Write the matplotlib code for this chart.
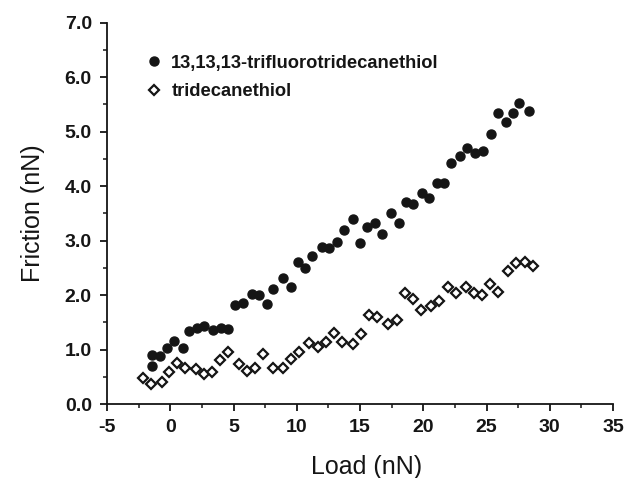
import matplotlib
matplotlib.use("Agg")
import matplotlib.pyplot as plt
from matplotlib.ticker import MultipleLocator, FormatStrFormatter

plt.rcParams["font.family"] = ["Liberation Sans", "DejaVu Sans"]
plt.rcParams["axes.unicode_minus"] = False

# 13,13,13-trifluorotridecanethiol
load_cf3 = [-1.47, -1.47, -0.81, -0.28, 0.30, 0.98, 1.51, 2.09, 2.67, 3.40,
            3.99, 4.59, 5.12, 5.73, 6.44, 7.04, 7.62, 8.15, 8.92, 9.54,
            10.08, 10.65, 11.23, 11.97, 12.57, 13.21, 13.76, 14.42, 15.00, 15.58,
            16.19, 16.77, 17.45, 18.08, 18.64, 19.17, 19.93, 20.48, 21.06, 21.64,
            22.19, 22.91, 23.48, 24.09, 24.70, 25.33, 25.93, 26.52, 27.07, 27.60,
            28.38]
fric_cf3 = [0.70, 0.90, 0.89, 1.03, 1.16, 1.02, 1.34, 1.39, 1.43, 1.35,
            1.40, 1.38, 1.82, 1.85, 2.02, 2.00, 1.83, 2.12, 2.32, 2.15,
            2.60, 2.49, 2.72, 2.89, 2.87, 2.97, 3.19, 3.39, 2.96, 3.25,
            3.32, 3.12, 3.51, 3.33, 3.71, 3.67, 3.87, 3.79, 4.05, 4.05,
            4.42, 4.55, 4.70, 4.60, 4.65, 4.95, 5.35, 5.17, 5.35, 5.52,
            5.38]

# tridecanethiol
load_ch3 = [-2.13, -1.52, -0.68, -0.08, 0.51, 1.17, 2.04, 2.69, 3.32, 3.93,
            4.59, 5.43, 6.04, 6.70, 7.36, 8.15, 8.89, 9.55, 10.15, 10.99,
            11.70, 12.31, 12.94, 13.60, 14.42, 15.08, 15.72, 16.37, 17.24, 17.90,
            18.53, 19.17, 19.82, 20.61, 21.27, 21.93, 22.57, 23.38, 24.01, 24.67,
            25.28, 25.89, 26.68, 27.33, 28.04, 28.65]
fric_ch3 = [0.48, 0.36, 0.41, 0.58, 0.76, 0.67, 0.64, 0.56, 0.59, 0.81,
            0.95, 0.73, 0.61, 0.67, 0.92, 0.67, 0.67, 0.82, 0.96, 1.12,
            1.05, 1.14, 1.31, 1.14, 1.10, 1.28, 1.64, 1.59, 1.47, 1.55,
            2.03, 1.93, 1.72, 1.80, 1.90, 2.14, 2.03, 2.15, 2.04, 2.00,
            2.20, 2.06, 2.45, 2.58, 2.61, 2.53]

ink = "#151515"

fig = plt.figure(figsize=(6.27, 4.78), dpi=100)
ax = fig.add_axes([0.1707, 0.1548, 0.807, 0.7977])

ax.plot(load_cf3, fric_cf3, "o", color=ink, markersize=6.5,
        label="13,13,13-trifluorotridecanethiol")
ax.plot(load_ch3, fric_ch3, "D", markerfacecolor="white", markeredgecolor=ink,
        markeredgewidth=1.6, markersize=4.8, label="tridecanethiol")

ax.set_xlim(-5, 35)
ax.set_ylim(0, 7)
ax.xaxis.set_major_locator(MultipleLocator(5))
ax.xaxis.set_minor_locator(MultipleLocator(2.5))
ax.yaxis.set_major_locator(MultipleLocator(1))
ax.yaxis.set_minor_locator(MultipleLocator(0.5))
ax.yaxis.set_major_formatter(FormatStrFormatter("%.1f"))

for s in ["top", "right"]:
    ax.spines[s].set_visible(False)
for s in ["left", "bottom"]:
    ax.spines[s].set_linewidth(1.3)
    ax.spines[s].set_color(ink)

ax.tick_params(which="major", direction="out", length=5, width=1.3,
               labelsize=14, colors=ink, pad=6)
ax.tick_params(which="minor", direction="out", length=3, width=1.1, colors=ink)
for t in ax.get_xticklabels() + ax.get_yticklabels():
    t.set_fontweight("bold")

ax.set_xlabel("Load (nN)", fontsize=18, color=ink, labelpad=13)
ax.xaxis.set_label_coords(0.513, -0.135)
ax.set_ylabel("Friction (nN)", fontsize=18, color=ink, labelpad=14)

leg = ax.legend(loc="upper left", bbox_to_anchor=(0.06, 0.935), frameon=False,
                prop={"size": 13.2, "weight": "bold"}, handletextpad=0.45,
                handlelength=1.0, labelspacing=0.63, borderaxespad=0,
                labelcolor=ink)

fig.savefig("out.png", dpi=100)
